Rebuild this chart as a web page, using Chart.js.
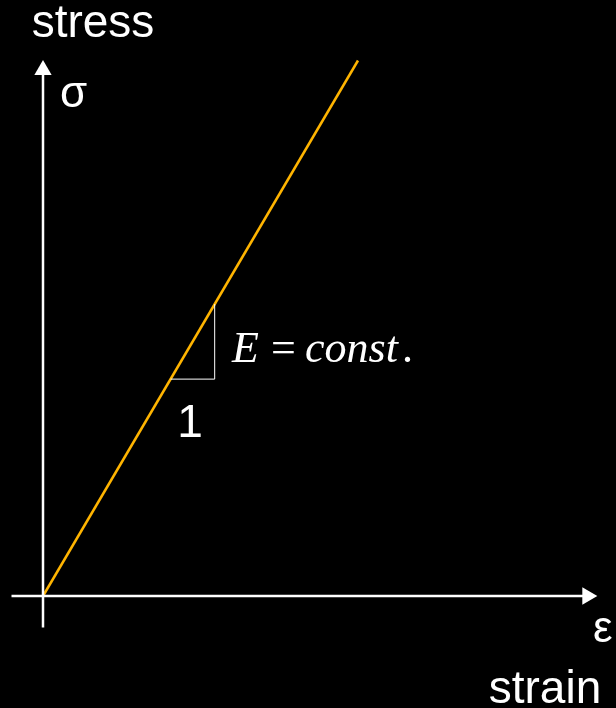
<!DOCTYPE html>
<html>
<head>
<meta charset="utf-8">
<script src="https://cdn.jsdelivr.net/npm/chart.js@4.4.1/dist/chart.umd.min.js"></script>
<style>
  html, body { margin: 0; padding: 0; background: #000; }
  #wrap { width: 616px; height: 708px; }
</style>
</head>
<body>
<div id="wrap"><canvas id="graph"></canvas></div>
<script>
// stress-strain line (linear elastic), E = 1.7
const strain = [0, 1];
const stress = [0, 1.7];

// slope triangle under the line
const triStrain = [0.405, 0.545, 0.545];
const triStress = [0.6885, 0.6885, 0.9265];

// axes (last point gets the arrow head)
const xAxisStrain = [-0.1, 1.728];
const xAxisStress = [0, 0];
const yAxisStrain = [0, 0];
const yAxisStress = [-0.1, 1.67];

const labels = {
  stress: 'stress',
  strain: 'strain',
  sigma: 'σ',
  eps: 'ε',
  one: '1'
};

// origin sits at pixel (43, 596), 315 px per unit
const PX = 315, OX = 43, OY = 596, W = 616, H = 708;

function pts(xs, ys) {
  return xs.map((x, i) => ({ x: x, y: ys[i] }));
}

const textPlugin = {
  id: 'texts',
  afterDatasetsDraw(chart) {
    const ctx = chart.ctx;
    const xs = chart.scales.x;
    ctx.save();
    ctx.fillStyle = '#fff';
    ctx.textBaseline = 'alphabetic';

    ctx.font = '46px "Liberation Sans", Arial, sans-serif';
    ctx.textAlign = 'center';
    ctx.fillText(labels.stress, 93, 37);
    ctx.fillText(labels.strain, 545, 703);
    ctx.fillText(labels.one, xs.getPixelForValue(0.467), 437);

    ctx.font = '44px "Liberation Sans", Arial, sans-serif';
    ctx.textAlign = 'left';
    ctx.fillText(labels.sigma, 60, 107);
    ctx.fillText(labels.eps, 593, 642);

    // E = const.  (equation-editor spacing)
    const x0 = xs.getPixelForValue(0.6);
    const y = 362;
    const parts = [
      ['E', 'italic', 0], ['=', 'normal', 39], ['const', 'italic', 73], ['.', 'normal', 170]
    ];
    parts.forEach(p => {
      ctx.font = p[1] + ' 44px "Liberation Serif", "Times New Roman", serif';
      ctx.fillText(p[0], x0 + p[2], y);
    });
    ctx.restore();
  }
};

const ctx = document.getElementById('graph').getContext('2d');

new Chart(ctx, {
  type: 'scatter',
  data: {
    datasets: [
      {
        label: 'x axis',
        data: pts(xAxisStrain, xAxisStress),
        showLine: true,
        borderColor: '#fff',
        backgroundColor: '#fff',
        borderWidth: 2.5,
        pointStyle: 'triangle',
        pointRadius: [0, 10],
        pointRotation: [0, 90],
        pointBorderWidth: 0
      },
      {
        label: 'y axis',
        data: pts(yAxisStrain, yAxisStress),
        showLine: true,
        borderColor: '#fff',
        backgroundColor: '#fff',
        borderWidth: 2.5,
        pointStyle: 'triangle',
        pointRadius: [0, 10],
        pointRotation: [0, 0],
        pointBorderWidth: 0
      },
      {
        label: 'slope',
        data: pts(triStrain, triStress),
        showLine: true,
        borderColor: '#fff',
        borderWidth: 1,
        pointRadius: 0
      },
      {
        label: 'stress-strain',
        data: pts(strain, stress),
        showLine: true,
        borderColor: '#ffb400',
        borderWidth: 2.5,
        pointRadius: 0
      }
    ]
  },
  options: {
    responsive: true,
    maintainAspectRatio: false,
    animation: false,
    layout: { padding: 0, autoPadding: false },
    scales: {
      x: { type: 'linear', display: false, min: -OX / PX, max: (W - OX) / PX },
      y: { type: 'linear', display: false, min: -(H - OY) / PX, max: OY / PX }
    },
    plugins: {
      legend: { display: false },
      tooltip: { enabled: false }
    }
  },
  plugins: [textPlugin]
});
</script>
</body>
</html>
